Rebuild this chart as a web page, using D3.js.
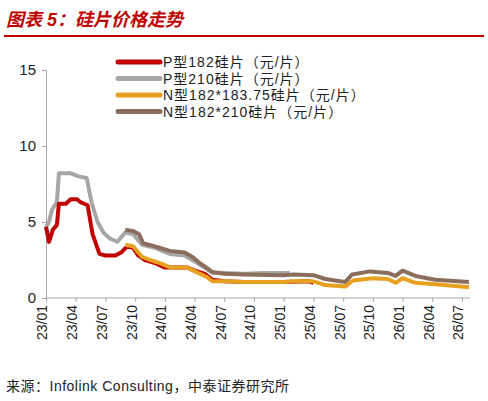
<!DOCTYPE html><html><head><meta charset="utf-8"><script src="https://cdn.jsdelivr.net/npm/d3@7"></script>
<style>body{margin:0;background:#fff}text{font-family:Arial,"Liberation Sans","Noto Sans CJK SC",sans-serif}</style></head><body><svg width="488" height="401"></svg><script>
const tickLabels=["23/01","23/04","23/07","23/10","24/01","24/04","24/07","24/10","25/01","25/04","25/07","25/10","26/01","26/04","26/07"];
const seriesNames=["P型182硅片（元/片）","P型210硅片（元/片）","N型182*183.75硅片（元/片）","N型182*210硅片（元/片）"];
const colors=["#c00000","#a6a6a6","#e8a020","#8b6d5c"];
// [month index from 23/01, price]
const p182=[[0,4.7],[0.3,3.7],[0.7,4.5],[1.1,4.8],[1.3,6.2],[2,6.2],[2.5,6.5],[3.1,6.5],[3.5,6.3],[4.2,6.1],[4.7,4.2],[5.4,2.9],[6,2.8],[7,2.8],[7.6,3.0],[8.2,3.4],[8.8,3.3],[9.3,2.8],[10,2.5],[11,2.3],[12,2.0],[13,2.0],[14.3,2.0],[15,1.8],[16,1.6],[16.8,1.2],[18,1.1],[20,1.05],[24,1.05],[26.5,1.1],[27,1.0]];
const p210=[[0,4.7],[0.3,5.0],[0.6,5.8],[1.1,6.3],[1.3,8.2],[2.5,8.2],[3.3,8.0],[4.1,7.9],[4.6,6.3],[5.2,5.0],[5.8,4.3],[6.5,3.9],[7.2,3.7],[8,4.3],[8.8,4.2],[9.7,3.5],[11,3.3],[12.5,2.9],[14,2.8],[15.3,2.3],[16,2.0],[16.7,1.7],[18,1.65],[20,1.6],[22,1.65],[24.6,1.65]];
const n183=[[8,3.5],[8.8,3.4],[9.7,2.7],[10.5,2.5],[11.5,2.3],[12.6,2.0],[14.3,2.0],[15.2,1.7],[16.2,1.4],[16.8,1.1],[18,1.1],[20,1.05],[24,1.05],[25,1.1],[27,1.1],[28.2,0.85],[30.2,0.75],[31,1.15],[33,1.3],[34.5,1.25],[35.3,1.0],[36,1.3],[37.3,1.0],[39.3,0.9],[42.7,0.7]];
const n210=[[8,4.5],[8.8,4.4],[9.4,4.2],[9.8,3.6],[11,3.4],[12.5,3.1],[14,3.0],[14.8,2.7],[15.5,2.3],[16.2,2.0],[16.8,1.7],[18,1.6],[20,1.55],[24,1.5],[25,1.55],[27,1.5],[28.2,1.25],[30.2,1.05],[30.9,1.55],[32.7,1.75],[34.5,1.65],[35.3,1.45],[36,1.8],[37.3,1.45],[39.3,1.2],[42.7,1.05]];
const data=[p182,p210,n183,n210];
const svg=d3.select("svg");
const x=d3.scaleLinear().domain([0,42]).range([46,462]);
const y=d3.scaleLinear().domain([0,15]).range([298,70]);
svg.append("text").attr("x",6).attr("y",26).attr("fill","#c00000").attr("font-size",18).attr("font-weight","bold").attr("font-style","italic").attr("font-family","'Noto Sans CJK SC'").text("图表 5：硅片价格走势");
svg.append("line").attr("x1",4).attr("x2",484).attr("y1",36).attr("y2",36).attr("stroke","#c00000").attr("stroke-width",2);
const ya=svg.append("g").attr("transform","translate(46,0)").call(d3.axisLeft(y).tickValues([0,5,10,15]).tickSize(4).tickPadding(6));
ya.select(".domain").attr("stroke","#a6a6a6");ya.selectAll("line").attr("stroke","#a6a6a6");ya.selectAll("text").attr("font-size",15).attr("fill","#222");
const xa=svg.append("g").attr("transform","translate(0,298)").call(d3.axisBottom(x).tickValues(tickLabels.map((d,i)=>i*3)).tickFormat((d,i)=>tickLabels[i]).tickSize(4).tickSizeOuter(0));
xa.select(".domain").attr("d","M46,0H470").attr("stroke","#a6a6a6");xa.selectAll("line").attr("stroke","#a6a6a6");
xa.selectAll("text").attr("font-size",14).attr("fill","#222").attr("transform","rotate(-90)").attr("text-anchor","end").attr("x",-7).attr("y",-4).attr("dy","0.35em");
const line=d3.line().x(d=>x(d[0])).y(d=>y(d[1]));
[1,0,3,2].forEach(i=>svg.append("path").attr("d",line(data[i])).attr("fill","none").attr("stroke",colors[i]).attr("stroke-width",4).attr("stroke-linejoin","round"));
seriesNames.forEach((n,i)=>{const yy=62+i*16.5;
svg.append("line").attr("x1",118).attr("x2",160).attr("y1",yy).attr("y2",yy).attr("stroke",colors[i]).attr("stroke-width",5).attr("stroke-linecap","round");
svg.append("text").attr("x",163).attr("y",yy+5).attr("font-size",14).attr("letter-spacing",1).attr("fill","#222").text(n);});
svg.append("text").attr("x",6).attr("y",391).attr("font-size",14).attr("letter-spacing",0.5).attr("fill","#222").attr("font-family","'Noto Sans CJK SC'").text("来源：Infolink Consulting，中泰证券研究所");
</script></body></html>
